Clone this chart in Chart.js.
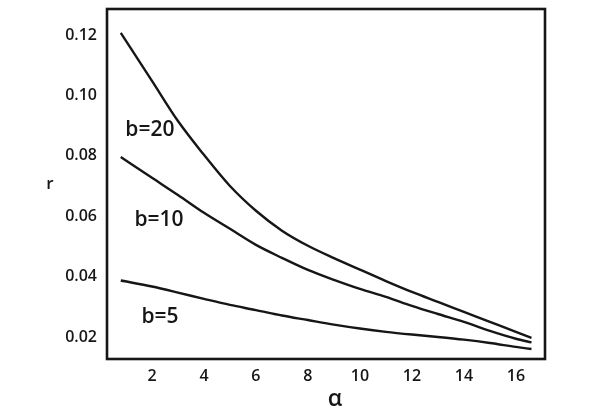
<!DOCTYPE html>
<html>
<head>
<meta charset="utf-8">
<script src="https://cdn.jsdelivr.net/npm/chart.js@4.4.1/dist/chart.umd.min.js"></script>
<style>
  html,body{margin:0;padding:0;background:#fff;}
  #wrap{width:601px;height:411px;position:relative;}
</style>
</head>
<body>
<div id="wrap"><canvas id="c" width="601" height="411"></canvas></div>
<script>
// values
const alpha = [0.8, 2, 3, 4, 5, 6, 7, 8, 9, 10, 11, 12, 13, 14, 15, 16, 16.6];
const rB20 = [0.1207, 0.1048, 0.0915, 0.0803, 0.0700, 0.0618, 0.0552, 0.0502, 0.0461, 0.0423, 0.0385, 0.0349, 0.0316, 0.0283, 0.0250, 0.0217, 0.0197];
const rB10 = [0.0796, 0.0727, 0.0670, 0.0611, 0.0558, 0.0505, 0.0462, 0.0422, 0.0389, 0.0359, 0.0333, 0.0303, 0.0276, 0.0250, 0.0220, 0.0194, 0.0182];
const rB5  = [0.0387, 0.0367, 0.0347, 0.0326, 0.0306, 0.0289, 0.0271, 0.0256, 0.0241, 0.0228, 0.0217, 0.0208, 0.0200, 0.0191, 0.0180, 0.0167, 0.0160];

const xTicks = [2, 4, 6, 8, 10, 12, 14, 16];
const yTicks = [0.02, 0.04, 0.06, 0.08, 0.10, 0.12];

// curve labels, placed in data units
const curveLabels = ['b=20', 'b=10', 'b=5'];
const labelAlpha = [1.92, 2.27, 2.31];
const labelR = [0.0885, 0.0587, 0.0267];

const INK = '#161616';
const FONT = "'Open Sans', 'DejaVu Sans', sans-serif";

function pts(ys){ return alpha.map((a,i)=>({x:a, y:ys[i]})); }
function ds(ys){
  return { data: pts(ys), borderColor: INK, borderWidth: 2.4, pointRadius: 0,
           fill: false, cubicInterpolationMode: 'monotone' };
}

const framePlugin = {
  id: 'frame',
  afterDraw(chart){
    const {ctx, chartArea:a, scales} = chart;
    ctx.save();
    ctx.strokeStyle = INK;
    ctx.lineWidth = 2.6;
    ctx.strokeRect(a.left, a.top, a.right - a.left, a.bottom - a.top);

    ctx.fillStyle = INK;
    ctx.textAlign = 'center';
    ctx.textBaseline = 'middle';
    ctx.font = "600 21px " + FONT;
    curveLabels.forEach((t,i)=>{
      ctx.fillText(t, scales.x.getPixelForValue(labelAlpha[i]), scales.y.getPixelForValue(labelR[i]));
    });

    // axis titles
    ctx.font = "600 17px " + FONT;
    ctx.fillText('r', 50, 184);
    ctx.font = "600 23px " + FONT;
    ctx.fillText('α', 335, 399);
    ctx.restore();
  }
};

new Chart(document.getElementById('c'), {
  type: 'line',
  data: { datasets: [ds(rB20), ds(rB10), ds(rB5)] },
  plugins: [framePlugin],
  options: {
    responsive: false,
    animation: false,
    layout: { padding: { left: 0, right: 56, top: 9, bottom: 0 } },
    plugins: { legend: { display: false }, tooltip: { enabled: false } },
    scales: {
      x: {
        type: 'linear', min: 0.27, max: 17.12,
        grid: { display: false, drawTicks: false },
        border: { display: false },
        afterBuildTicks: s => { s.ticks = xTicks.map(v=>({value:v})); },
        afterFit: s => { s.height = 52; s.paddingLeft = 0; s.paddingRight = 0; },
        ticks: { color: INK, padding: 8, maxRotation: 0, autoSkip: false,
                 font: { family: FONT, size: 16, weight: '600' } }
      },
      y: {
        type: 'linear', min: 0.0127, max: 0.1286,
        grid: { display: false, drawTicks: false },
        border: { display: false },
        afterBuildTicks: s => { s.ticks = yTicks.map(v=>({value:v})); },
        afterFit: s => { s.width = 107; s.paddingTop = 0; s.paddingBottom = 0; },
        ticks: { color: INK, padding: 10, autoSkip: false,
                 callback: v => v.toFixed(2),
                 font: { family: FONT, size: 16, weight: '600' } }
      }
    }
  }
});
</script>
</body>
</html>
